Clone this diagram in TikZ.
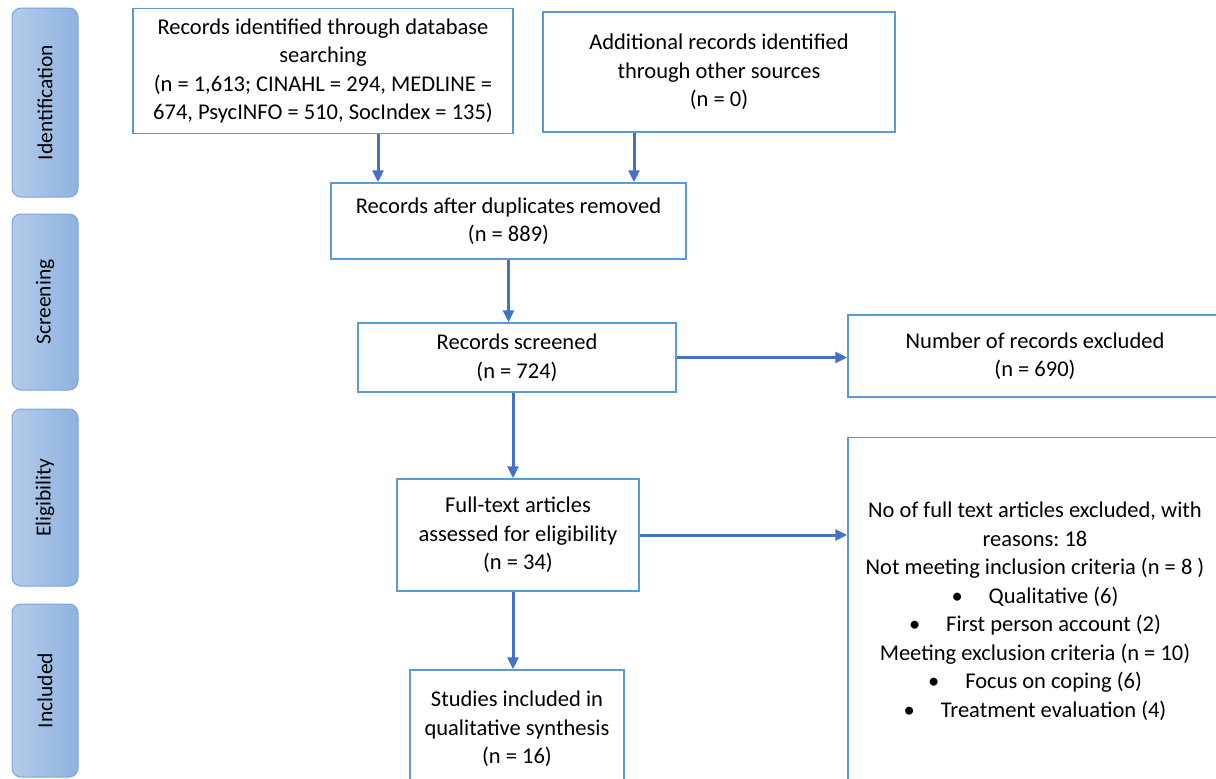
\documentclass[tikz,border=0pt]{standalone}
\usepackage{fontspec}
\setmainfont{Carlito}
\usetikzlibrary{arrows.meta}
\definecolor{boxblue}{HTML}{5B9BD5}
\definecolor{arrowblue}{HTML}{4472C4}
\definecolor{sideleft}{HTML}{B4CBEA}
\definecolor{sideright}{HTML}{8EB3E1}
\definecolor{sideedge}{HTML}{7AA6DC}
\frenchspacing
\begin{document}
\begin{tikzpicture}[x=1pt,y=-1pt,
  every node/.style={font=\fontsize{22.5}{28.5}\selectfont,align=center,inner sep=0pt},
  recbox/.style={draw=boxblue,line width=1.5pt,fill=white},
  phase/.style={draw=sideedge,line width=1pt,rounded corners=9pt,rotate=90,
    left color=sideleft,right color=sideright,minimum height=66pt,
    font=\fontsize{21.5}{26}\selectfont},
  flow/.style={draw=arrowblue,line width=3pt,-{Triangle[length=12pt,width=11pt]}}]
\useasboundingbox (0,0) rectangle (1216,779);
\clip (0,0) rectangle (1216,779);
\node[phase,minimum width=189pt] (ident) at (45,102.5) {Identification};
\node[phase,minimum width=176pt] (screen) at (45,302) {Screening};
\node[phase,minimum width=177pt] (elig) at (45,497.5) {Eligibility};
\node[phase,minimum width=173pt] (inc) at (45,690.5) {Included};
\node[recbox,minimum width=380pt,minimum height=125pt] (dbrec) at (323,71)
  {Records identified through database\\searching\\(n = 1,613; CINAHL = 294, MEDLINE =\\674, PsycINFO = 510, SocIndex = 135)};
\node[recbox,minimum width=352pt,minimum height=120pt] (otherrec) at (719,72)
  {Additional records identified\\through other sources\\(n = 0)};
\node[recbox,minimum width=355pt,minimum height=76pt] (dedup) at (508.5,221)
  {Records after duplicates removed\\(n = 889)};
\node[recbox,minimum width=318pt,minimum height=69pt] (screened) at (517,357.5)
  {Records screened\\(n = 724)};
\node[recbox,minimum width=374pt,minimum height=82pt] (excl) at (1035,356)
  {Number of records excluded\\(n = 690)};
\node[recbox,minimum width=242pt,minimum height=112pt] (fulltext) at (518,535)
  {Full-text articles\\assessed for eligibility\\(n = 34)};
\node[recbox,minimum width=374pt,minimum height=347pt] (ftexcl) at (1035,611)
  {No of full text articles excluded, with\\reasons: 18\\Not meeting inclusion criteria (n = 8 )\\
   \textbullet\hspace{26pt}Qualitative (6)\\\textbullet\hspace{26pt}First person account (2)\\
   Meeting exclusion criteria (n = 10)\\\textbullet\hspace{26pt}Focus on coping (6)\\
   \textbullet\hspace{26pt}Treatment evaluation (4)};
\node[recbox,minimum width=214pt,minimum height=118pt] (incl) at (517,729)
  {Studies included in\\qualitative synthesis\\(n = 16)};
\coordinate (colA) at (378,0);
\coordinate (colB) at (634,0);
\coordinate (colM) at (513,0);
\draw[flow] (dbrec.south -| colA) -- (dedup.north -| colA);
\draw[flow] (otherrec.south -| colB) -- (dedup.north -| colB);
\draw[flow] (dedup.south) -- (dedup.south |- screened.north);
\draw[flow] (screened.east) -- (screened.east -| excl.west);
\draw[flow] (screened.south -| colM) -- (fulltext.north -| colM);
\draw[flow] (fulltext.east) -- (fulltext.east -| ftexcl.west);
\draw[flow] (fulltext.south -| colM) -- (incl.north -| colM);
\end{tikzpicture}
\end{document}
